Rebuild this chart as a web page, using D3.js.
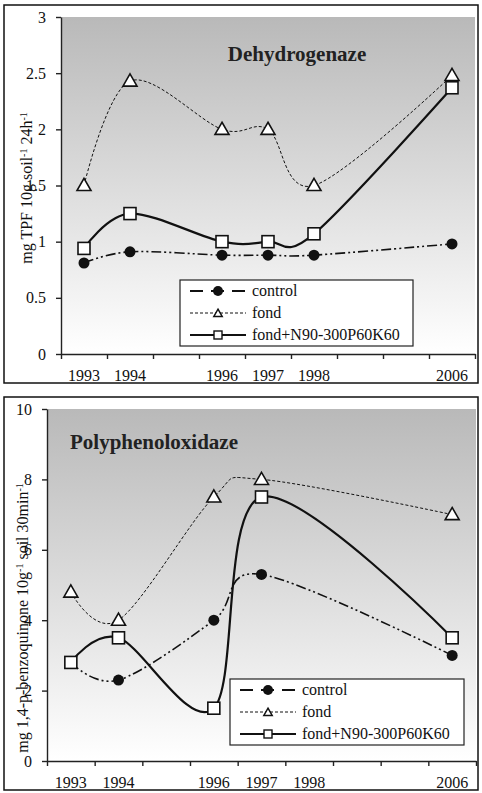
<!DOCTYPE html>
<html>
<head>
<meta charset="utf-8">
<script src="https://cdn.jsdelivr.net/npm/d3@7"></script>
<style>
  body { margin: 0; background: #fff; }
  svg { display: block; }
  svg text { font-family: "Liberation Serif", "Times New Roman", serif; }
</style>
</head>
<body>
<svg id="chart" width="482" height="793"></svg>
<script>
// category slots on the x axis (blank ones have no data)
var yearLabels = ["1993", "1994", "", "1996", "1997", "1998", "", "", "2006"];

// dehydrogenaze
var dhgYears = ["1993", "1994", "1996", "1997", "1998", "2006"];
var dhgControl = [0.81, 0.91, 0.88, 0.88, 0.88, 0.98];
var dhgFond = [1.5, 2.43, 2.0, 2.0, 1.5, 2.48];
var dhgNpk = [0.94, 1.25, 1.0, 1.0, 1.07, 2.37];
var dhgTicks = [0, 0.5, 1, 1.5, 2, 2.5, 3];

// polyphenoloxidaze
var ppoYears = ["1993", "1994", "1996", "1997", "2006"];
var ppoControl = [2.8, 2.3, 4.0, 5.3, 3.0];
var ppoFond = [4.8, 4.0, 7.5, 8.0, 7.0];
var ppoNpk = [2.8, 3.5, 1.5, 7.5, 3.5];
var ppoTicks = [0, 2, 4, 6, 8, 10];

var seriesNames = ["control", "fond", "fond+N90-300P60K60"];

var svg = d3.select('#chart');

var defs = svg.append('defs');
var grad = defs.append('linearGradient')
  .attr('id', 'bg')
  .attr('x1', 0).attr('y1', 0).attr('x2', 0).attr('y2', 1);
grad.append('stop').attr('offset', '0%').attr('stop-color', '#b9b9b9');
grad.append('stop').attr('offset', '100%').attr('stop-color', '#ffffff');

function drawPanel(opt) {
  var g = svg.append('g');

  // outer frame
  g.append('rect')
    .attr('x', opt.frame[0]).attr('y', opt.frame[1])
    .attr('width', opt.frame[2]).attr('height', opt.frame[3])
    .attr('fill', '#fff')
    .attr('stroke', '#111')
    .attr('stroke-width', 1.5);

  var x = d3.scaleBand().domain(d3.range(yearLabels.length)).range([opt.left, opt.right]);
  var xEdge = d3.scaleLinear().domain([0, yearLabels.length]).range([opt.left, opt.right]);
  var y = d3.scaleLinear().domain([0, d3.max(opt.ticks)]).range([opt.bottom, opt.top]);

  g.append('rect')
    .attr('x', opt.left).attr('y', opt.top)
    .attr('width', opt.right - opt.left).attr('height', opt.bottom - opt.top)
    .attr('fill', 'url(#bg)');

  // y axis
  var ya = g.append('g')
    .attr('transform', 'translate(' + opt.left + ',0)')
    .call(d3.axisLeft(y).tickValues(opt.ticks).tickSize(5).tickSizeOuter(0).tickPadding(opt.ypad)
      .tickFormat(function(d) { return String(d); }));
  ya.attr('font-family', null).attr('font-size', null);
  ya.selectAll('text').attr('font-size', 16).attr('fill', '#111');

  // x axis: ticks between categories, labels at the centres
  var xa = g.append('g')
    .attr('transform', 'translate(0,' + opt.bottom + ')')
    .call(d3.axisBottom(xEdge).tickValues(d3.range(yearLabels.length + 1)).tickFormat('').tickSize(5).tickSizeOuter(0));
  var xl = g.append('g')
    .attr('transform', 'translate(0,' + opt.bottom + ')')
    .call(d3.axisBottom(x).tickSize(0).tickPadding(opt.xpad).tickFormat(function(i) { return yearLabels[i]; }));
  xl.select('.domain').remove();
  xl.attr('font-family', null).attr('font-size', null);
  xl.selectAll('text').attr('font-size', 16).attr('fill', '#111');

  g.selectAll('.domain, .tick line').attr('stroke', '#222').attr('stroke-width', 1.4);

  // title
  g.append('text')
    .attr('x', opt.titlePos[0]).attr('y', opt.titlePos[1])
    .attr('text-anchor', opt.titleAnchor)
    .attr('font-size', 21).attr('font-weight', 'bold').attr('fill', '#222')
    .text(opt.title);

  // y axis title, with superscripts
  var yt = g.append('text')
    .attr('transform', 'translate(' + opt.ytPos[0] + ',' + opt.ytPos[1] + ') rotate(-90)')
    .attr('text-anchor', 'middle')
    .attr('font-size', 16).attr('fill', '#111');
  opt.ytParts.forEach(function(p) {
    var t = yt.append('tspan').text(p[0]);
    if (p[1]) t.attr('font-size', 10).attr('baseline-shift', 'super');
  });

  var px = function(yr) { return x(yearLabels.indexOf(yr)) + x.bandwidth() / 2; };
  var line = d3.line()
    .x(function(d) { return px(d[0]); })
    .y(function(d) { return y(d[1]); })
    .curve(d3.curveCardinal.tension(0));

  var sets = [
    d3.zip(opt.years, opt.control),
    d3.zip(opt.years, opt.fond),
    d3.zip(opt.years, opt.npk)
  ];
  var styles = [
    { dash: '10,3,2,3,2,3', w: 1.6 },
    { dash: '3,2', w: 1 },
    { dash: null, w: 2.2 }
  ];

  sets.forEach(function(s, i) {
    g.append('path')
      .attr('d', line(s))
      .attr('fill', 'none')
      .attr('stroke', '#111')
      .attr('stroke-width', styles[i].w)
      .attr('stroke-dasharray', styles[i].dash);
  });

  // markers
  g.selectAll('.dot').data(sets[0]).enter().append('circle')
    .attr('cx', function(d) { return px(d[0]); })
    .attr('cy', function(d) { return y(d[1]); })
    .attr('r', 5.5).attr('fill', '#111');
  g.selectAll('.tri').data(sets[1]).enter().append('path')
    .attr('d', d3.symbol().type(d3.symbolTriangle).size(85))
    .attr('transform', function(d) { return 'translate(' + px(d[0]) + ',' + (y(d[1]) + 1) + ')'; })
    .attr('fill', '#fff').attr('stroke', '#111').attr('stroke-width', 1.6);
  g.selectAll('.sq').data(sets[2]).enter().append('rect')
    .attr('x', function(d) { return px(d[0]) - 6; })
    .attr('y', function(d) { return y(d[1]) - 6; })
    .attr('width', 12).attr('height', 12)
    .attr('fill', '#fff').attr('stroke', '#111').attr('stroke-width', 1.6);

  // legend
  var lg = g.append('g').attr('transform', 'translate(' + opt.legend[0] + ',' + opt.legend[1] + ')');
  lg.append('rect')
    .attr('width', opt.legend[2]).attr('height', 66)
    .attr('fill', '#fff').attr('stroke', '#222').attr('stroke-width', 1.2);
  seriesNames.forEach(function(name, i) {
    var ry = 11 + i * 22;
    var row = lg.append('g').attr('transform', 'translate(10,' + ry + ')');
    row.append('line')
      .attr('x1', 0).attr('x2', 56).attr('y1', 0).attr('y2', 0)
      .attr('stroke', '#111')
      .attr('stroke-width', i === 1 ? 1 : 2)
      .attr('stroke-dasharray', i === 0 ? '13,8' : (i === 1 ? '3,2' : null));
    if (i === 0) row.append('circle').attr('cx', 28).attr('r', 5).attr('fill', '#111');
    if (i === 1) row.append('path')
      .attr('d', d3.symbol().type(d3.symbolTriangle).size(30))
      .attr('transform', 'translate(28,1)')
      .attr('fill', '#fff').attr('stroke', '#111').attr('stroke-width', 1.5);
    if (i === 2) row.append('rect')
      .attr('x', 24).attr('y', -4).attr('width', 8).attr('height', 8)
      .attr('fill', '#fff').attr('stroke', '#111').attr('stroke-width', 1.4);
    row.append('text')
      .attr('x', 62).attr('y', 5)
      .attr('font-size', 16).attr('fill', '#111')
      .text(name);
  });
}

drawPanel({
  frame: [4, 5, 474, 378],
  left: 61, right: 475, top: 17, bottom: 354,
  ticks: dhgTicks, ypad: 10, xpad: 16,
  title: 'Dehydrogenaze', titlePos: [297, 61], titleAnchor: 'middle',
  ytPos: [32, 188],
  ytParts: [['mg TPF 10g soil'], ['-1', true], [' 24h'], ['-1', true]],
  years: dhgYears, control: dhgControl, fond: dhgFond, npk: dhgNpk,
  legend: [180, 280, 233]
});

drawPanel({
  frame: [4, 397, 474, 393],
  left: 47, right: 476, top: 409, bottom: 761,
  ticks: ppoTicks, ypad: 10, xpad: 16,
  title: 'Polyphenoloxidaze', titlePos: [70, 449], titleAnchor: 'start',
  ytPos: [28, 618],
  ytParts: [['mg 1,4-p-benzoquinone 10g'], ['-1', true], [' soil 30min'], ['-1', true]],
  years: ppoYears, control: ppoControl, fond: ppoFond, npk: ppoNpk,
  legend: [230, 679, 234]
});
</script>
</body>
</html>
